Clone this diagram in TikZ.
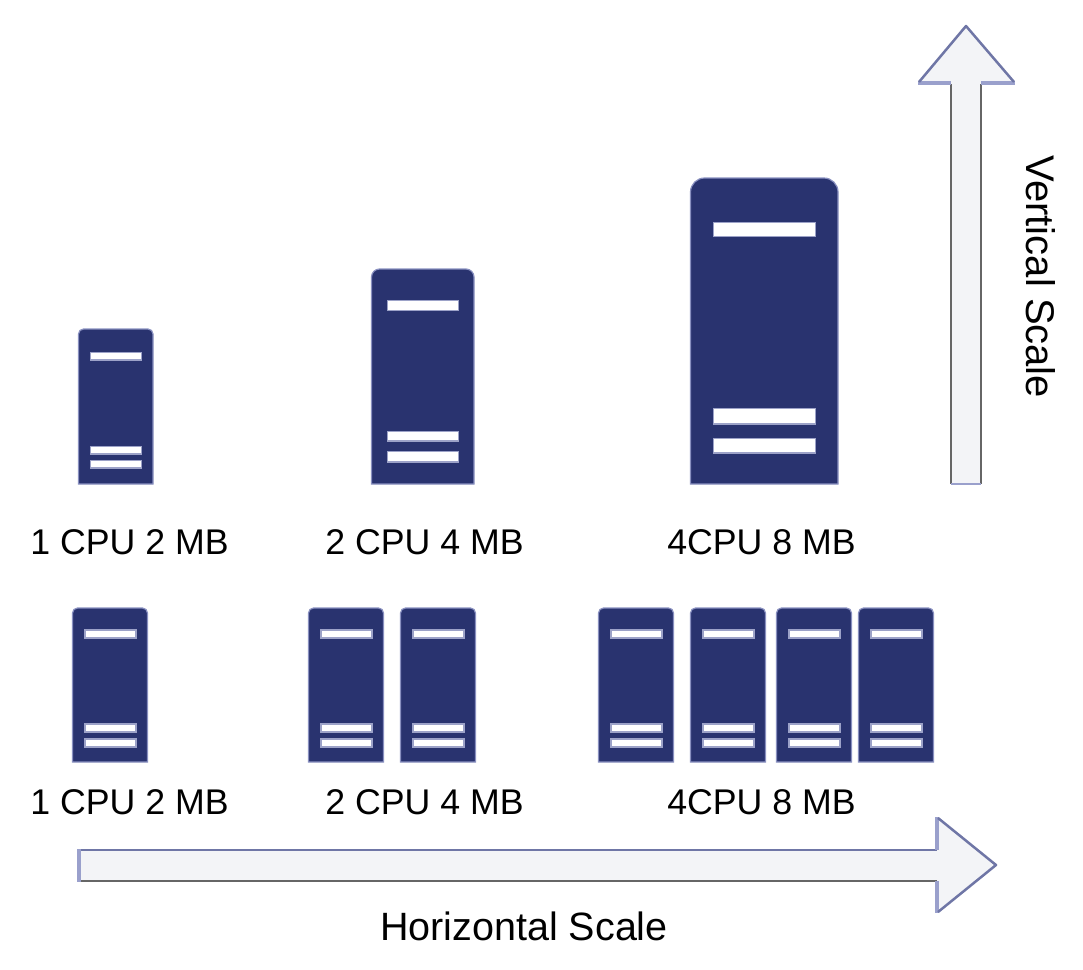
\documentclass[tikz,border=0pt]{standalone}
\usepackage{fontspec}
\setmainfont{Liberation Sans}
\definecolor{srvblue}{HTML}{29336F}
\definecolor{srvedge}{HTML}{8990C0}
\definecolor{barhalo}{HTML}{9CA2C8}
\definecolor{arrfill}{HTML}{F3F4F7}
\definecolor{arrgray}{HTML}{666666}
\definecolor{arrblue}{HTML}{9AA0CC}
\definecolor{arrdiag}{HTML}{6F76A6}
\tikzset{
  x=1pt,y=-1pt,
  srvbody/.style={fill=srvblue,draw=srvedge,line width=1.2pt},
  srvbar/.style={fill=white,draw=barhalo,line width=1.5pt},
  lbl/.style={font=\fontsize{35.7}{36}\selectfont,text=black,inner sep=0pt,anchor=base},
  lblbig/.style={lbl,font=\fontsize{39.5}{40}\selectfont},
  arrbody/.style={fill=arrfill,draw=none},
  arrside/.style={draw=arrgray,line width=2.5pt},
  arrhead/.style={draw=arrdiag,line width=2.5pt,line join=round},
  arrbase/.style={draw=arrblue,line width=4pt}
}
% x1 y1 x2 y2 radius: square bottom corners, rounded top corners
\newcommand{\srvbox}[5]{%
  \draw[srvbody] (#1,#4) -- (#1,#2+#5)
    .. controls (#1,#2+0.45*#5) and (#1+0.45*#5,#2) .. (#1+#5,#2)
    -- (#3-#5,#2)
    .. controls (#3-0.45*#5,#2) and (#3,#2+0.45*#5) .. (#3,#2+#5)
    -- (#3,#4) -- cycle;
}
\newcommand{\srvbar}[4]{\draw[srvbar] (#1,#3) rectangle (#2,#4);}
\newcommand{\smallsrv}[1]{%
  \srvbox{#1}{608}{#1+75}{762}{5}
  \srvbar{#1+12.5}{#1+63.5}{630}{638}
  \srvbar{#1+12.5}{#1+63.5}{724}{732}
  \srvbar{#1+12.5}{#1+63.5}{739}{747}
}
\begin{document}
\begin{tikzpicture}
\useasboundingbox (0,0) rectangle (1083,969);
% top row
\srvbox{78.5}{329}{153}{484}{5}
\srvbar{90.5}{141.5}{352.5}{360}
\srvbar{90.5}{141.5}{446.5}{454}
\srvbar{90.5}{141.5}{460.5}{468}
\srvbox{371.5}{269}{474}{484}{8}
\srvbar{387.5}{458.5}{300.5}{310.5}
\srvbar{387.5}{458.5}{431.5}{441}
\srvbar{387.5}{458.5}{451.5}{462}
\srvbox{690.5}{178}{838}{484}{14}
\srvbar{713.5}{815.5}{222.5}{236.5}
\srvbar{713.5}{815.5}{408.5}{424}
\srvbar{713.5}{815.5}{438.5}{453}
% bottom row
\smallsrv{72.5}
\smallsrv{308.5}
\smallsrv{400.5}
\smallsrv{598.5}
\smallsrv{690.5}
\smallsrv{776.5}
\smallsrv{858.5}
% labels
\node[lbl] (t1) at (129.5,554) {1 CPU 2 MB};
\node[lbl] (t2) at (424.5,554) {2 CPU 4 MB};
\node[lbl] (t3) at (761.5,554) {4CPU 8 MB};
\node[lbl] (b1) at (129.5,814) {1 CPU 2 MB};
\node[lbl] (b2) at (424.5,814) {2 CPU 4 MB};
\node[lbl] (b3) at (761.5,814) {4CPU 8 MB};
\node[lblbig] (hs) at (524,940.5) {Horizontal Scale};
\node[lblbig,rotate=-90,font=\fontsize{40}{40}\selectfont] (vs) at (1026,277) {Vertical Scale};
% vertical arrow
\fill[arrbody] (951,484) -- (951,83) -- (919,83) -- (966,26) -- (1014,83) -- (981,83) -- (981,484) -- cycle;
\draw[arrside] (951,84) -- (951,484);
\draw[arrside] (981,84) -- (981,484);
\draw[arrblue,line width=2pt] (951,484) -- (981,484);
\draw[arrbase] (918,83) -- (951,83) (981,83) -- (1015,83);
\draw[arrhead] (919,82) -- (966,26) -- (1014,82);
% horizontal arrow
\fill[arrbody] (79,850) -- (937,850) -- (937,818) -- (996,865) -- (937,912) -- (937,881) -- (79,881) -- cycle;
\draw[arrgray,line width=2.5pt] (79,881) -- (937,881);
\draw[arrdiag,line width=2pt] (79,850) -- (937,850);
\draw[arrbase] (79,849) -- (79,882);
\draw[arrbase] (937,817) -- (937,850) (937,881) -- (937,913);
\draw[arrhead] (938,818) -- (996,865) -- (938,912);
\end{tikzpicture}
\end{document}
